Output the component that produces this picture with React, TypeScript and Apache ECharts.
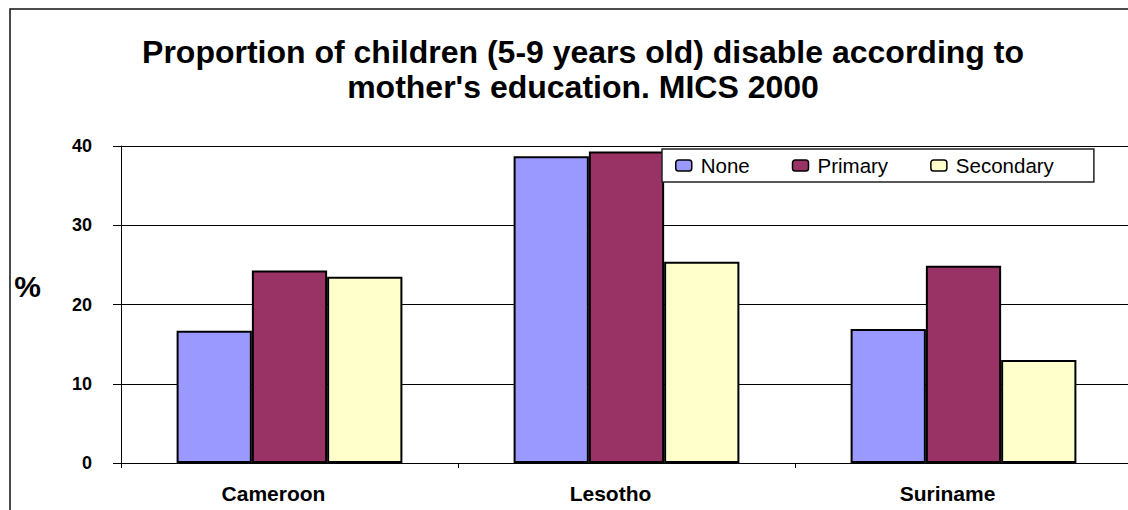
import React, { useEffect, useRef } from "react";
import * as echarts from "echarts";

// Countries and disability proportions (%) by mother's education level
const categories = ["Cameroon", "Lesotho", "Suriname"];
const seriesNames = ["None", "Primary", "Secondary"];
const noneValues = [16.7, 38.7, 16.9];
const primaryValues = [24.3, 39.3, 24.9];
const secondaryValues = [23.5, 25.4, 13.0];
const yMin = 0;
const yMax = 40;
const yStep = 10;

const titleLines = [
  "Proportion of children (5-9 years old) disable according to",
  "mother's education. MICS 2000",
];
const yAxisName = "%";

const colors = ["#9999FF", "#993366", "#FFFFCC"];
const FONT = '"Liberation Sans", Arial, Helvetica, sans-serif';

export default function App() {
  const ref = useRef<HTMLDivElement>(null);

  useEffect(() => {
    if (!ref.current) return;
    const chart = echarts.init(ref.current, null, { renderer: "svg" });
    const values = [noneValues, primaryValues, secondaryValues];

    chart.setOption({
      animation: false,
      backgroundColor: "#ffffff",
      textStyle: { fontFamily: FONT, color: "#000" },
      title: {
        text: titleLines.join("\n"),
        left: 578,
        top: 29,
        textAlign: "center",
        textStyle: {
          fontFamily: FONT,
          fontSize: 32,
          fontWeight: "bold",
          color: "#000",
          lineHeight: 35,
        },
      },
      legend: {
        data: seriesNames,
        left: 662,
        top: 149,
        orient: "horizontal",
        itemWidth: 16,
        itemHeight: 11,
        itemGap: 42,
        padding: [5, 40, 5, 13],
        backgroundColor: "#fff",
        borderColor: "#222",
        borderWidth: 1.5,
        itemStyle: { borderColor: "#000", borderWidth: 1.5 },
        textStyle: {
          fontFamily: FONT,
          fontSize: 20.5,
          color: "#000",
          lineHeight: 23,
          padding: [0, 0, 0, 4],
        },
      },
      grid: { left: 121, right: 0, top: 146, bottom: 47, containLabel: false },
      xAxis: {
        type: "category",
        data: categories,
        axisLine: { show: true, lineStyle: { color: "#000", width: 1 } },
        axisTick: { show: true, length: 5, alignWithLabel: false, lineStyle: { color: "#000" } },
        axisLabel: {
          fontFamily: FONT,
          fontSize: 21,
          fontWeight: "bold",
          color: "#000",
          margin: 20,
          padding: [0, 32, 0, 0],
        },
        splitLine: { show: false },
      },
      yAxis: {
        type: "value",
        min: yMin,
        max: yMax,
        interval: yStep,
        name: yAxisName,
        nameLocation: "middle",
        nameRotate: 0,
        nameGap: 80,
        nameTextStyle: {
          fontFamily: FONT,
          fontSize: 30,
          fontWeight: "bold",
          color: "#000",
          lineHeight: 36,
          verticalAlign: "bottom",
        },
        axisLine: { show: true, lineStyle: { color: "#000", width: 1 } },
        axisTick: { show: true, length: 8, lineStyle: { color: "#000" } },
        axisLabel: {
          fontFamily: FONT,
          fontSize: 18,
          fontWeight: "bold",
          color: "#000",
          margin: 29,
        },
        splitLine: { show: true, lineStyle: { color: "#000", width: 1 } },
      },
      series: seriesNames.map((name, i) => ({
        name,
        type: "bar",
        data: values[i],
        barGap: "0%",
        barCategoryGap: "33%",
        itemStyle: { color: colors[i], borderColor: "#000", borderWidth: 2 },
      })),
      graphic: [
        {
          type: "rect",
          z: -1,
          silent: true,
          shape: { x: 10, y: 9, width: 1200, height: 600 },
          style: { fill: "none", stroke: "#111", lineWidth: 1.5 },
        },
      ],
    });

    return () => chart.dispose();
  }, []);

  return (
    <div
      style={{
        position: "fixed",
        left: 0,
        top: 0,
        width: 1128,
        height: 510,
        overflow: "hidden",
        background: "#fff",
      }}
    >
      <div ref={ref} style={{ width: 1132, height: 510 }} />
    </div>
  );
}
